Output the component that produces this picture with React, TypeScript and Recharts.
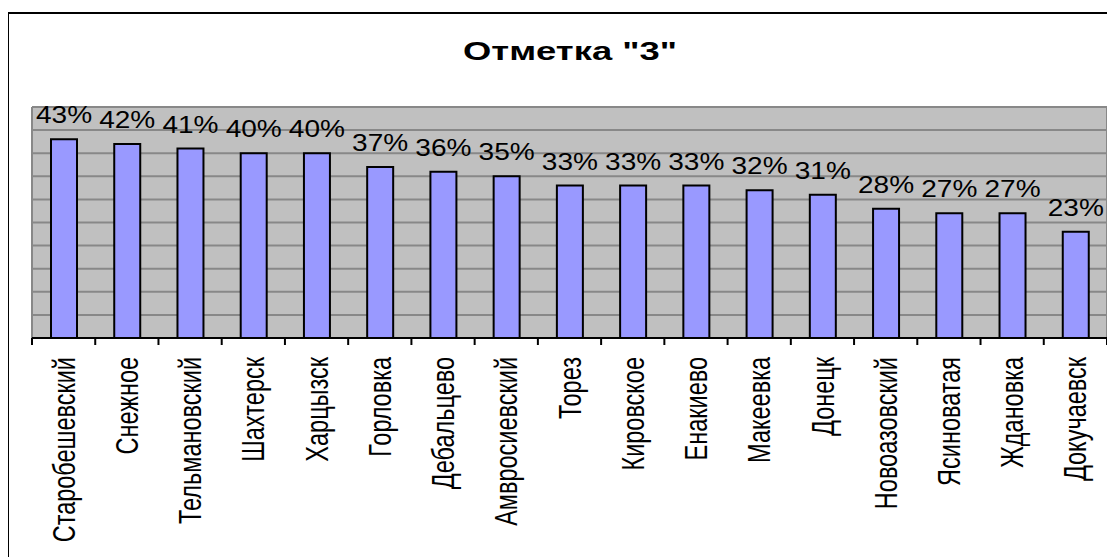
import { BarChart, Bar, XAxis, YAxis, CartesianGrid, LabelList } from 'recharts'

const districts = [
  'Старобешевский', 'Снежное', 'Тельмановский', 'Шахтерск', 'Харцызск', 'Горловка',
  'Дебальцево', 'Амвросиевский', 'Торез', 'Кировское', 'Енакиево', 'Макеевка',
  'Донецк', 'Новоазовский', 'Ясиноватая', 'Ждановка', 'Докучаевск',
]
const shares = [43, 42, 41, 40, 40, 37, 36, 35, 33, 33, 33, 32, 31, 28, 27, 27, 23]
const yTicks = [0, 5, 10, 15, 20, 25, 30, 35, 40, 45, 50]

const data = districts.map((name, i) => ({ name, value: shares[i] }))

const W = 1107
const H = 549
const M = { top: 99, right: 8, bottom: 0, left: 24 }
const AXIS_H = 219
const PLOT_W = W - M.left - M.right
const BAND = PLOT_W / districts.length
const FONT = '"Liberation Sans", Arial, sans-serif'

// картинка растянута по горизонтали
const SX_TICK = 1.32
const SX_LABEL = 1.22
const TICK_FS = 23.5
const LABEL_FS = 23

function CategoryTick(props: any) {
  const { x, y, payload, index } = props
  const capH = TICK_FS * 0.716
  const tx = x + (capH * SX_TICK) / 2
  const left = x - BAND / 2
  const right = x + BAND / 2
  return (
    <g>
      <line x1={left} y1={y} x2={left} y2={y + 7} stroke="#000" strokeWidth={2} />
      {index === districts.length - 1 && (
        <line x1={right} y1={y} x2={right} y2={y + 7} stroke="#000" strokeWidth={2} />
      )}
      <text
        transform={`translate(${tx},${y + 19}) scale(${SX_TICK},1) rotate(-90)`}
        textAnchor="end"
        fontFamily={FONT}
        fontSize={TICK_FS}
        fill="#000"
      >
        {payload.value}
      </text>
    </g>
  )
}

function ValueLabel(props: any) {
  const { x, y, width, value } = props
  return (
    <text
      transform={`translate(${x + width / 2},${y - 16}) scale(${SX_LABEL},1)`}
      textAnchor="middle"
      fontFamily={FONT}
      fontSize={LABEL_FS}
      fill="#000"
    >
      {value}%
    </text>
  )
}

export default function App() {
  return (
    <div style={{ position: 'relative', width: W, height: H, overflow: 'hidden' }}>
      <div
        style={{
          position: 'absolute', left: -1, top: 4, width: W + 40, height: H + 40,
          border: '2px solid #000', boxSizing: 'border-box',
        }}
      />
      <svg width={W} height={100} style={{ position: 'absolute', left: 0, top: 0 }}>
        <text
          transform={`translate(562,52) scale(1.4,1)`}
          textAnchor="middle"
          fontFamily={FONT}
          fontWeight="bold"
          fontSize={26}
          fill="#000"
        >
          Отметка "3"
        </text>
      </svg>
      <div style={{ position: 'absolute', left: 0, top: 0 }}>
        <BarChart width={W} height={H} data={data} margin={M} barSize={26}>
          <CartesianGrid
            fill="#C0C0C0"
            stroke="#888888"
            strokeWidth={2}
            verticalCoordinatesGenerator={({ offset }: any) => [offset.left, offset.left + offset.width]}
          />
          <YAxis hide domain={[0, 50]} ticks={yTicks} />
          <XAxis
            dataKey="name"
            interval={0}
            height={AXIS_H}
            tickSize={0}
            tickMargin={0}
            tickLine={false}
            axisLine={{ stroke: '#000', strokeWidth: 2 }}
            tick={<CategoryTick />}
          />
          <Bar dataKey="value" fill="#9999FF" stroke="#000" strokeWidth={2} isAnimationActive={false}>
            <LabelList dataKey="value" content={<ValueLabel />} />
          </Bar>
        </BarChart>
      </div>
    </div>
  )
}
